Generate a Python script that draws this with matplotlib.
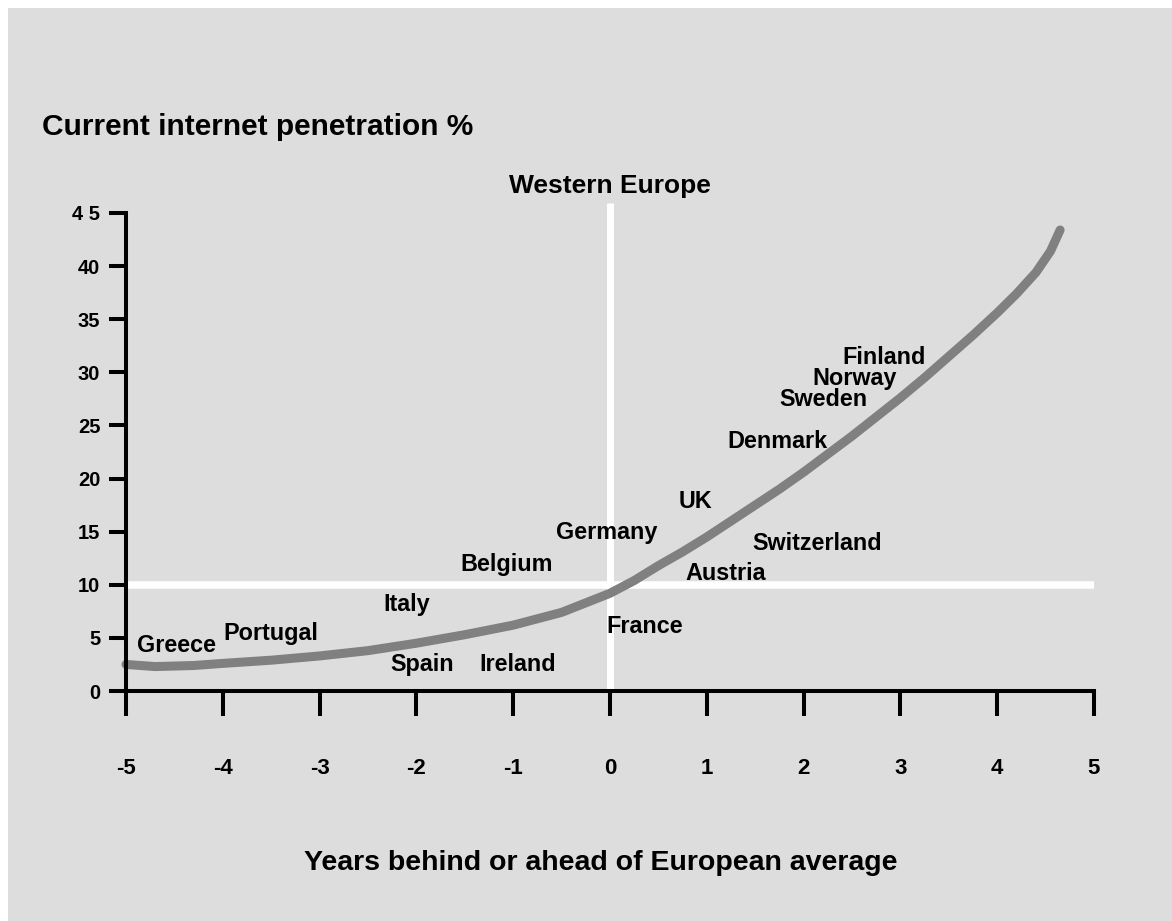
import matplotlib
matplotlib.use("Agg")
import matplotlib.pyplot as plt
from matplotlib import font_manager
from matplotlib.patches import Rectangle

# Adoption curve: years behind/ahead of the European average vs. penetration %
curve_x = [-5.0, -4.7, -4.3, -4.0, -3.5, -3.0, -2.5, -2.0, -1.5, -1.0, -0.5,
           0.0, 0.25, 0.5, 0.75, 1.0, 1.25, 1.5, 1.75, 2.0, 2.25, 2.5, 2.75,
           3.0, 3.25, 3.5, 3.75, 4.0, 4.2, 4.4, 4.55, 4.65]
curve_y = [2.5, 2.3, 2.4, 2.6, 2.9, 3.3, 3.8, 4.5, 5.3, 6.2, 7.4,
           9.2, 10.4, 11.8, 13.1, 14.5, 16.0, 17.5, 19.0, 20.6, 22.3, 24.0, 25.8,
           27.6, 29.5, 31.5, 33.5, 35.6, 37.4, 39.4, 41.4, 43.4]

# Country labels and where they sit
countries = ["Greece", "Portugal", "Italy", "Spain", "Ireland", "Belgium",
             "Germany", "UK", "Switzerland", "Austria", "France", "Finland",
             "Norway", "Sweden", "Denmark"]
country_x = [-4.48, -3.50, -2.10, -1.94, -0.95, -1.07, -0.03, 0.88, 2.14,
             1.19, 0.36, 2.83, 2.53, 2.21, 1.73]
country_y = [4.3, 5.4, 8.1, 2.45, 2.45, 11.9, 14.9, 17.8, 13.9, 11.1, 6.1,
             31.4, 29.4, 27.4, 23.5]

x_ticks = [-5, -4, -3, -2, -1, 0, 1, 2, 3, 4, 5]
y_ticks = [0, 5, 10, 15, 20, 25, 30, 35, 40, 45]
y_tick_labels = ["0", "5", "10", "15", "20", "25", "30", "35", "40", "4 5"]
avg_penetration = 10
avg_years = 0

title = "Current internet penetration %"
region = "Western Europe"
x_title = "Years behind or ahead of European average"

# Prefer a condensed bold face when available
installed = {f.name for f in font_manager.fontManager.ttflist}
if "Liberation Sans Narrow" in installed:
    FAMILY, K = "Liberation Sans Narrow", 1.0 / 0.82
else:
    FAMILY, K = "Liberation Sans", 1.0
plt.rcParams["font.family"] = [FAMILY, "DejaVu Sans"]
plt.rcParams["font.weight"] = "bold"

BG = "#dddddd"
W, H = 1172, 921
fig = plt.figure(figsize=(W / 100, H / 100), dpi=100, facecolor="white")
fig.patches.append(Rectangle((8 / W, 0), 1, 1 - 8 / H, transform=fig.transFigure,
                             facecolor=BG, edgecolor="none", zorder=-10))

ax = fig.add_axes([126 / W, 1 - 691 / H, (1094 - 126) / W, (691 - 213) / H])
ax.set_facecolor("none")
ax.set_xlim(-5, 5)
ax.set_ylim(0, 45)

for s in ("top", "right"):
    ax.spines[s].set_visible(False)
for s in ("left", "bottom"):
    ax.spines[s].set_linewidth(2.9)
    ax.spines[s].set_color("black")
    ax.spines[s].set_zorder(5)

ax.set_xticks(x_ticks)
ax.set_xticklabels([str(v) for v in x_ticks])
ax.set_yticks(y_ticks)
ax.set_yticklabels(y_tick_labels)
ax.tick_params(axis="x", direction="out", length=18, width=2.9, pad=30,
               labelsize=16 * K)
ax.tick_params(axis="y", direction="out", length=12.5, width=2.9, pad=6,
               labelsize=14.5 * K)
for lbl in ax.get_xticklabels() + ax.get_yticklabels():
    lbl.set_fontweight("bold")

# White reference lines for the European average
ax.plot([-5, 5], [avg_penetration, avg_penetration], color="white", lw=5.4,
        solid_capstyle="butt", zorder=1, clip_on=False)
ax.plot([avg_years, avg_years], [0, 45.9], color="white", lw=5.0,
        solid_capstyle="butt", zorder=1, clip_on=False)

# Adoption curve
ax.plot(curve_x, curve_y, color="#808080", lw=6.5, solid_capstyle="round",
        solid_joinstyle="round", zorder=3, clip_on=False)

for name, cx, cy in zip(countries, country_x, country_y):
    ax.text(cx, cy, name, ha="center", va="center", fontsize=16.8 * K,
            fontweight="bold", zorder=4)

ax.text(0, 47.5, region, ha="center", va="center", fontsize=19 * K,
        fontweight="bold", clip_on=False)

fig.text(42 / W, 1 - 135 / H, title, ha="left", va="baseline",
         fontsize=21.5 * K, fontweight="bold")
fig.text(601 / W, 1 - 870 / H, x_title, ha="center", va="baseline",
         fontsize=20.5 * K, fontweight="bold")

fig.savefig("out.png", dpi=100, facecolor=fig.get_facecolor())
